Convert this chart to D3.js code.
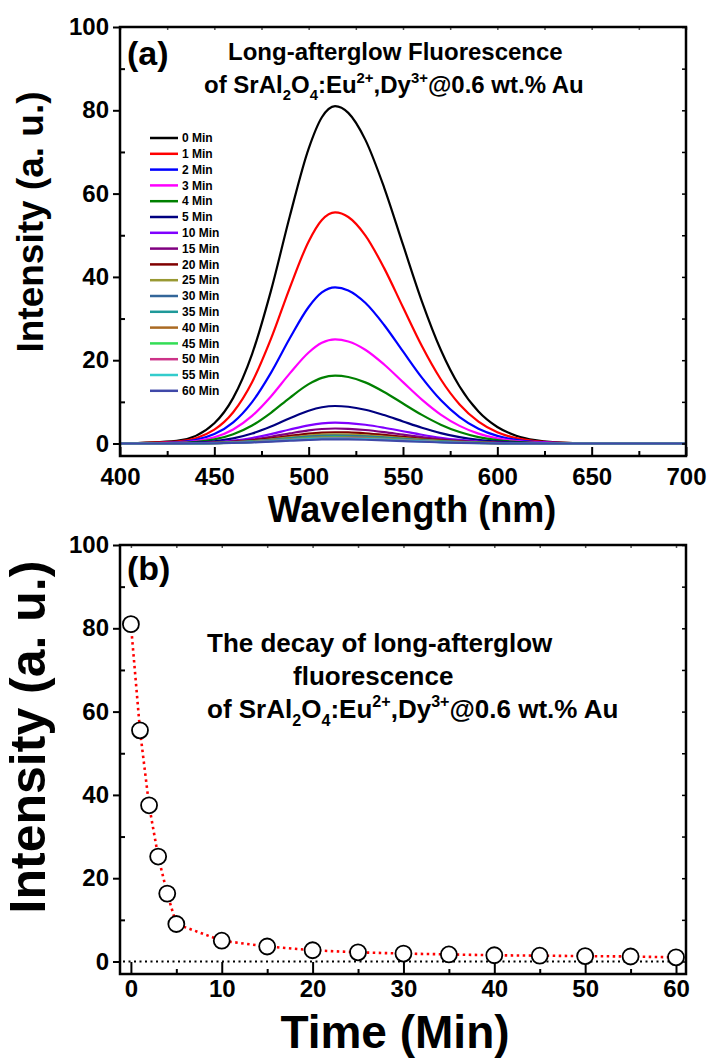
<!DOCTYPE html>
<html>
<head>
<meta charset="utf-8">
<script src="https://cdn.jsdelivr.net/npm/d3@7"></script>
<style>
  body { margin: 0; background: #fff; }
  text { font-family: Arial, "Liberation Sans", sans-serif; font-weight: bold; fill: #000; }
</style>
</head>
<body>
<svg id="chart" width="709" height="1059"></svg>
<script>
// ---- panel (a): afterglow spectra ----
const wavelengths = [400, 430, 450, 460, 470, 480, 490, 500, 507, 514, 521, 530, 540, 550, 560, 570, 580, 590, 600, 610, 620, 640, 670, 700]

const min0  = [0, 0.64, 4.88, 10.96, 21.47, 36.65, 54.57, 70.81, 78.33, 81.0, 79.38, 72.96, 61.46, 47.73, 34.15, 22.52, 13.69, 7.67, 3.96, 1.88, 0.83, 0.12, 0, 0]
const min1  = [0, 0.44, 3.35, 7.51, 14.71, 25.11, 37.39, 48.52, 53.67, 55.5, 54.39, 49.99, 42.11, 32.70, 23.40, 15.43, 9.38, 5.26, 2.71, 1.29, 0.57, 0.08, 0, 0]
const min2  = [0, 0.30, 2.26, 5.07, 9.94, 16.97, 25.26, 32.78, 36.26, 37.5, 36.75, 33.78, 28.46, 22.10, 15.81, 10.43, 6.34, 3.55, 1.83, 0.87, 0.38, 0.06, 0, 0]
const min3  = [0, 0.20, 1.51, 3.38, 6.63, 11.31, 16.84, 21.86, 24.18, 25.0, 24.5, 22.52, 18.97, 14.73, 10.54, 6.95, 4.23, 2.37, 1.22, 0.58, 0.26, 0.04, 0, 0]
const min4  = [0, 0.13, 0.98, 2.21, 4.32, 7.38, 10.98, 14.25, 15.76, 16.3, 15.97, 14.68, 12.37, 9.60, 6.87, 4.53, 2.75, 1.54, 0.80, 0.38, 0.17, 0.02, 0, 0]
const min5  = [0, 0.07, 0.54, 1.22, 2.39, 4.07, 6.06, 7.87, 8.70, 9.0, 8.82, 8.11, 6.83, 5.30, 3.79, 2.50, 1.52, 0.85, 0.44, 0.21, 0.09, 0.01, 0, 0]
const min10 = [0, 0.04, 0.30, 0.68, 1.33, 2.26, 3.37, 4.37, 4.84, 5.0, 4.90, 4.50, 3.79, 2.95, 2.11, 1.39, 0.85, 0.47, 0.24, 0.12, 0.05, 0.01, 0, 0]
const min15 = [0, 0.03, 0.22, 0.49, 0.95, 1.63, 2.43, 3.15, 3.48, 3.6, 3.53, 3.24, 2.73, 2.12, 1.52, 1.00, 0.61, 0.34, 0.18, 0.08, 0.04, 0.01, 0, 0]
const min20 = [0, 0.02, 0.16, 0.37, 0.72, 1.22, 1.82, 2.36, 2.61, 2.7, 2.65, 2.43, 2.05, 1.59, 1.14, 0.75, 0.46, 0.26, 0.13, 0.06, 0.03, 0, 0, 0]
const min25 = [0, 0.02, 0.13, 0.30, 0.58, 1.00, 1.48, 1.92, 2.13, 2.2, 2.16, 1.98, 1.67, 1.30, 0.93, 0.61, 0.37, 0.21, 0.11, 0.05, 0.02, 0, 0, 0]
const min30 = [0, 0.02, 0.11, 0.26, 0.50, 0.86, 1.28, 1.66, 1.84, 1.9, 1.86, 1.71, 1.44, 1.12, 0.80, 0.53, 0.32, 0.18, 0.09, 0.04, 0.02, 0, 0, 0]
const min35 = [0, 0.01, 0.10, 0.23, 0.45, 0.77, 1.15, 1.49, 1.64, 1.7, 1.67, 1.53, 1.29, 1.00, 0.72, 0.47, 0.29, 0.16, 0.08, 0.04, 0.02, 0, 0, 0]
const min40 = [0, 0.01, 0.09, 0.20, 0.40, 0.68, 1.01, 1.31, 1.45, 1.5, 1.47, 1.35, 1.14, 0.88, 0.63, 0.42, 0.25, 0.14, 0.07, 0.03, 0.02, 0, 0, 0]
const min45 = [0, 0.01, 0.08, 0.19, 0.37, 0.63, 0.94, 1.22, 1.35, 1.4, 1.37, 1.26, 1.06, 0.82, 0.59, 0.39, 0.24, 0.13, 0.07, 0.03, 0.01, 0, 0, 0]
const min50 = [0, 0.01, 0.08, 0.18, 0.34, 0.59, 0.88, 1.14, 1.26, 1.3, 1.27, 1.17, 0.99, 0.77, 0.55, 0.36, 0.22, 0.12, 0.06, 0.03, 0.01, 0, 0, 0]
const min55 = [0, 0.01, 0.07, 0.16, 0.32, 0.54, 0.81, 1.05, 1.16, 1.2, 1.18, 1.08, 0.91, 0.71, 0.51, 0.33, 0.20, 0.11, 0.06, 0.03, 0.01, 0, 0, 0]
const min60 = [0, 0.01, 0.06, 0.14, 0.27, 0.45, 0.67, 0.87, 0.97, 1.0, 0.98, 0.90, 0.76, 0.59, 0.42, 0.28, 0.17, 0.09, 0.05, 0.02, 0.01, 0, 0, 0]

const seriesLabels = ['0 Min', '1 Min', '2 Min', '3 Min', '4 Min', '5 Min', '10 Min', '15 Min', '20 Min',
  '25 Min', '30 Min', '35 Min', '40 Min', '45 Min', '50 Min', '55 Min', '60 Min']
const seriesColors = ['#000000', '#ff0000', '#0000ff', '#ff00ff', '#008000', '#000080', '#8000ff', '#800080',
  '#800000', '#999933', '#336699', '#1f9999', '#aa6a22', '#33dd55', '#cc3388', '#33cccc', '#3f48a8']

// ---- panel (b): decay ----
const decayTimes = [0, 1, 2, 3, 4, 5, 10, 15, 20, 25, 30, 35, 40, 45, 50, 55, 60]
const decayIntensity = [81, 55.5, 37.5, 25.2, 16.3, 9.0, 5.0, 3.6, 2.7, 2.2, 1.9, 1.7, 1.5, 1.4, 1.3, 1.2, 1.0]

const intensityTicks = [0, 20, 40, 60, 80, 100]
const wavelengthTicks = [400, 450, 500, 550, 600, 650, 700]
const timeTicks = [0, 10, 20, 30, 40, 50, 60]

const spectra = [min0, min1, min2, min3, min4, min5, min10, min15, min20, min25, min30, min35, min40, min45, min50, min55, min60]

const svg = d3.select('#chart')
const left = 120, right = 686

// rich text helper: parts are [string, 'n' | 'sub' | 'sup']
function richText(g, x, y, size, parts) {
  let t = g.append('text').attr('x', x).attr('y', y).attr('font-size', size)
  let shift = 0
  parts.forEach(function(p) {
    let target = p[1] === 'sub' ? size * 0.3 : p[1] === 'sup' ? -size * 0.42 : 0
    t.append('tspan')
      .attr('dy', target - shift)
      .attr('font-size', p[1] === 'n' ? size : size * 0.62)
      .text(p[0])
    shift = target
  })
  return t
}

function frame(g, x, y, top, bottom, xMajor, xMinor, yMinor, xLabelPad, xTickLen) {
  // left axis: majors outward with labels, minors inward
  g.append('g')
    .attr('transform', 'translate(' + left + ',0)')
    .call(d3.axisLeft(y).tickValues(intensityTicks).tickSize(7).tickPadding(4))
    .call(s => s.select('.domain').remove())
    .call(s => s.selectAll('text').attr('font-size', 24).attr('font-family', 'Arial, "Liberation Sans", sans-serif').attr('font-weight', 'bold'))
    .call(s => s.selectAll('line').attr('stroke-width', 2))
  g.append('g')
    .attr('transform', 'translate(' + left + ',0)')
    .call(d3.axisRight(y).tickValues(yMinor).tickSize(5).tickFormat(''))
    .call(s => s.select('.domain').remove())
    .call(s => s.selectAll('line').attr('stroke-width', 2))

  // bottom axis: ticks inward
  g.append('g')
    .attr('transform', 'translate(0,' + bottom + ')')
    .call(d3.axisBottom(x).tickValues(xMajor).tickSize(-xTickLen).tickPadding(xLabelPad))
    .call(s => s.select('.domain').remove())
    .call(s => s.selectAll('text').attr('font-size', 24).attr('font-family', 'Arial, "Liberation Sans", sans-serif').attr('font-weight', 'bold'))
    .call(s => s.selectAll('line').attr('stroke-width', 2))
  g.append('g')
    .attr('transform', 'translate(0,' + bottom + ')')
    .call(d3.axisBottom(x).tickValues(xMinor).tickSize(-5).tickFormat(''))
    .call(s => s.select('.domain').remove())
    .call(s => s.selectAll('line').attr('stroke-width', 2))

  // mirror ticks top and right
  g.append('g')
    .attr('transform', 'translate(0,' + top + ')')
    .call(d3.axisTop(x).tickValues(xMajor.concat(xMinor)).tickSize(-3).tickFormat(''))
    .call(s => s.select('.domain').remove())
    .call(s => s.selectAll('line').attr('stroke', '#555').attr('stroke-width', 1.5))
  g.append('g')
    .attr('transform', 'translate(' + right + ',0)')
    .call(d3.axisRight(y).tickValues(intensityTicks.concat(yMinor)).tickSize(-4).tickFormat(''))
    .call(s => s.select('.domain').remove())
    .call(s => s.selectAll('line').attr('stroke-width', 1.5))

  g.append('rect')
    .attr('x', left).attr('y', top)
    .attr('width', right - left).attr('height', bottom - top)
    .attr('fill', 'none').attr('stroke', '#000').attr('stroke-width', 2.5)
}

// ================= panel (a) =================
const aTop = 27, aBottom = 456
const xa = d3.scaleLinear().domain([400, 700]).range([left, right])
const ya = d3.scaleLinear().domain([-3, 100]).range([aBottom, aTop])
const ga = svg.append('g')

const line = d3.line()
  .x((d, i) => xa(wavelengths[i]))
  .y(d => ya(d))
  .curve(d3.curveMonotoneX)

ga.append('g').selectAll('path')
  .data(spectra)
  .enter().append('path')
    .attr('d', line)
    .attr('fill', 'none')
    .attr('stroke', (d, i) => seriesColors[i])
    .attr('stroke-width', 2.2)

frame(ga, xa, ya, aTop, aBottom, wavelengthTicks, [425, 475, 525, 575, 625, 675], [10, 30, 50, 70, 90], 12, 9)

// legend
const legend = ga.append('g')
  .selectAll('g')
  .data(seriesLabels)
  .enter().append('g')
    .attr('transform', (d, i) => 'translate(150,' + (138 + i * 15.8) + ')')
legend.append('line')
  .attr('x1', 0).attr('x2', 28)
  .attr('stroke', (d, i) => seriesColors[i])
  .attr('stroke-width', 2.5)
legend.append('text')
  .attr('x', 32).attr('dy', '0.35em')
  .attr('font-size', 12)
  .text(d => d)

ga.append('text').attr('x', 127).attr('y', 65).attr('font-size', 34).text('(a)')
ga.append('text').attr('x', 228).attr('y', 60).attr('font-size', 24).text('Long-afterglow Fluorescence')
richText(ga, 204, 93, 24, [['of SrAl', 'n'], ['2', 'sub'], ['O', 'n'], ['4', 'sub'], [':Eu', 'n'], ['2+', 'sup'],
  [',Dy', 'n'], ['3+', 'sup'], ['@0.6 wt.% Au', 'n']])

ga.append('text')
  .attr('transform', 'translate(43,222) rotate(-90)')
  .attr('text-anchor', 'middle')
  .attr('font-size', 37)
  .text('Intensity (a. u.)')
ga.append('text')
  .attr('x', 412).attr('y', 522)
  .attr('text-anchor', 'middle')
  .attr('font-size', 36)
  .text('Wavelength (nm)')

// ================= panel (b) =================
const bTop = 545, bBottom = 974
const xb = d3.scaleLinear().domain([-1.2, 61.1]).range([left, right])
const yb = d3.scaleLinear().domain([-3, 100]).range([bBottom, bTop])
const gb = svg.append('g')

frame(gb, xb, yb, bTop, bBottom, timeTicks, [5, 15, 25, 35, 45, 55], [10, 30, 50, 70, 90], 6, 12)

// zero reference line
gb.append('line')
  .attr('x1', left + 3).attr('x2', right - 3)
  .attr('y1', yb(0)).attr('y2', yb(0))
  .attr('stroke', '#000').attr('stroke-width', 2)
  .attr('stroke-dasharray', '2,3.5')

const decayLine = d3.line()
  .x((d, i) => xb(decayTimes[i]))
  .y(d => yb(d))

gb.append('path')
  .datum(decayIntensity)
  .attr('d', decayLine)
  .attr('fill', 'none')
  .attr('stroke', '#ff0000')
  .attr('stroke-width', 2.6)
  .attr('stroke-dasharray', '2.5,3.5')

gb.append('g').selectAll('circle')
  .data(decayIntensity)
  .enter().append('circle')
    .attr('cx', (d, i) => xb(decayTimes[i]))
    .attr('cy', d => yb(d))
    .attr('r', 8)
    .attr('fill', '#fff')
    .attr('stroke', '#000')
    .attr('stroke-width', 1.8)

gb.append('text').attr('x', 127).attr('y', 580).attr('font-size', 34).text('(b)')
gb.append('text').attr('x', 207).attr('y', 652).attr('font-size', 26).text('The decay of long-afterglow')
gb.append('text').attr('x', 293).attr('y', 685).attr('font-size', 26).text('fluorescence')
richText(gb, 207, 718, 26, [['of SrAl', 'n'], ['2', 'sub'], ['O', 'n'], ['4', 'sub'], [':Eu', 'n'], ['2+', 'sup'],
  [',Dy', 'n'], ['3+', 'sup'], ['@0.6 wt.% Au', 'n']])

gb.append('text')
  .attr('transform', 'translate(45,737) rotate(-90)')
  .attr('text-anchor', 'middle')
  .attr('font-size', 50)
  .text('Intensity (a. u.)')
gb.append('text')
  .attr('x', 395).attr('y', 1048)
  .attr('text-anchor', 'middle')
  .attr('font-size', 46)
  .text('Time (Min)')
</script>
</body>
</html>
